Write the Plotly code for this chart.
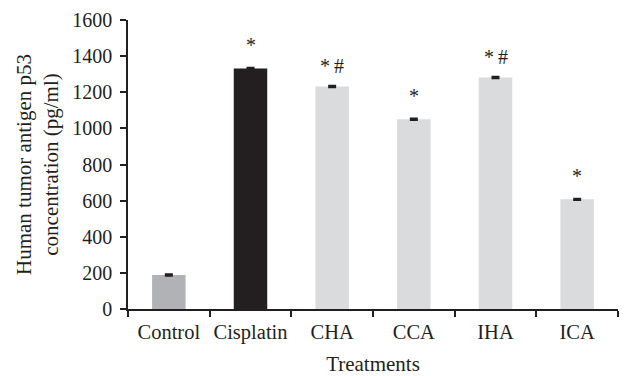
import plotly.graph_objects as go

categories = ["Control", "Cisplatin", "CHA", "CCA", "IHA", "ICA"]
values = [188, 1332, 1232, 1050, 1282, 607]
errors = [4, 4, 4, 4, 4, 4]
marks = ["", "*", "*#", "*", "*#", "*"]
colors = ["#b1b2b5", "#231f20", "#dadbdd", "#dadbdd", "#dadbdd", "#dadbdd"]
y_ticks = [0, 200, 400, 600, 800, 1000, 1200, 1400, 1600]

font_family = "Liberation Serif, Times New Roman, serif"

fig = go.Figure()
fig.add_trace(go.Bar(
    x=categories, y=values,
    marker=dict(color=colors, line=dict(width=0)),
    error_y=dict(type="data", array=errors, visible=True, color="#231f20", thickness=2, width=4),
    width=0.41,
))

for c, v, m in zip(categories, values, marks):
    if m:
        fig.add_annotation(x=c, y=v, text=m.replace("*#", "*\u2009#"), showarrow=False, yanchor="bottom",
                           yshift=10 if len(m) == 1 else 7,
                           font=dict(family=font_family, size=20, color="#231f20"))

fig.update_layout(
    width=638, height=376,
    margin=dict(l=128, r=20, t=20, b=67),
    paper_bgcolor="white", plot_bgcolor="white",
    font=dict(family=font_family, size=20, color="#231f20"),
    showlegend=False,
    xaxis=dict(
        title=dict(text="Treatments", standoff=15, font=dict(size=21)),
        automargin=False,
        showline=True, linecolor="#231f20", linewidth=1.5,
        ticks="outside", tickson="boundaries", ticklen=6, tickcolor="#231f20", tickwidth=1.5,
        ticklabelstandoff=4, tickangle=0,
        tickfont=dict(size=20.5),
    ),
    yaxis=dict(
        title=dict(text="Human tumor antigen p53<br>concentration (pg/ml)", standoff=8, font=dict(size=21)),
        automargin=False,
        range=[0, 1600], tickvals=y_ticks, ticktext=[str(t) for t in y_ticks],
        showline=True, linecolor="#231f20", linewidth=1.5,
        ticks="outside", ticklen=6, tickcolor="#231f20", tickwidth=1.5,
        ticklabelstandoff=4,
        showgrid=False, zeroline=False, tickfont=dict(size=20),
    ),
)

fig.write_html("out.html", config={"displayModeBar": False},
               post_script="document.body.style.margin='0px';document.body.style.overflow='hidden';")
